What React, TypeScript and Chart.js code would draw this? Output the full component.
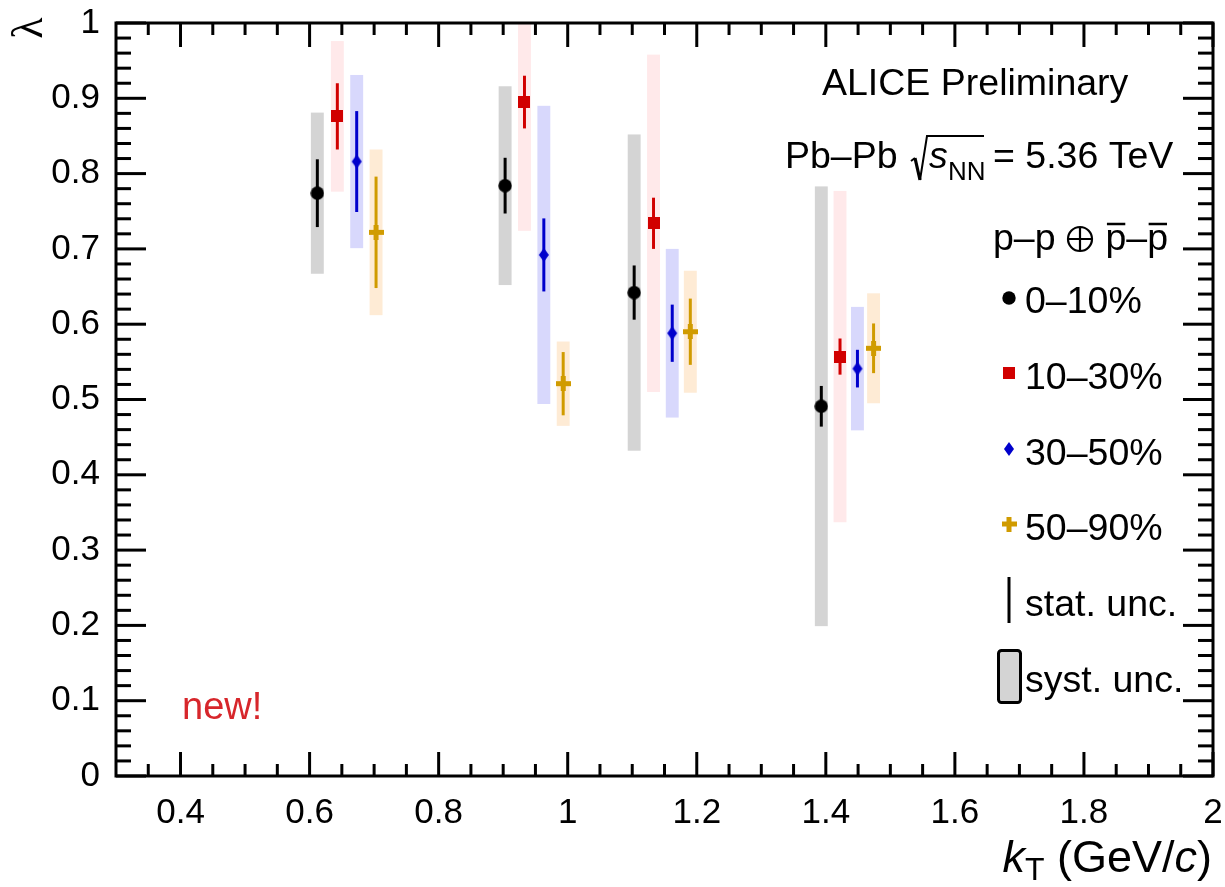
import React, { useEffect, useRef } from 'react';
import { Chart, registerables } from 'chart.js';

Chart.register(...registerables);

// ---------------- data ----------------
const centralityClasses = ['0–10%', '10–30%', '30–50%', '50–90%'];

const kT_0_10 = [0.612, 0.903, 1.103, 1.393];
const kT_10_30 = [0.643, 0.933, 1.133, 1.422];
const kT_30_50 = [0.673, 0.963, 1.162, 1.449];
const kT_50_90 = [0.703, 0.993, 1.19, 1.474];

const lambda_0_10 = [0.774, 0.784, 0.642, 0.491];
const lambda_10_30 = [0.876, 0.895, 0.734, 0.557];
const lambda_30_50 = [0.816, 0.692, 0.588, 0.541];
const lambda_50_90 = [0.722, 0.521, 0.59, 0.568];

const stat_0_10 = [0.045, 0.037, 0.036, 0.027];
const stat_10_30 = [0.044, 0.035, 0.034, 0.024];
const stat_30_50 = [0.067, 0.0485, 0.038, 0.025];
const stat_50_90 = [0.074, 0.042, 0.044, 0.033];

const syst_0_10 = [0.107, 0.132, 0.21, 0.292];
const syst_10_30 = [0.1, 0.171, 0.224, 0.22];
const syst_30_50 = [0.115, 0.198, 0.112, 0.082];
const syst_50_90 = [0.11, 0.056, 0.081, 0.073];

const systHalfWidthKT = 0.01;

const xTickValues = [0.4, 0.6, 0.8, 1, 1.2, 1.4, 1.6, 1.8, 2];
const xTickLabels = ['0.4', '0.6', '0.8', '1', '1.2', '1.4', '1.6', '1.8', '2'];
const yTickValues = [0, 0.1, 0.2, 0.3, 0.4, 0.5, 0.6, 0.7, 0.8, 0.9, 1];
const yTickLabels = ['0', '0.1', '0.2', '0.3', '0.4', '0.5', '0.6', '0.7', '0.8', '0.9', '1'];

// ---------------- styles ----------------
const SANS = "'Liberation Sans', Arial, Helvetica, sans-serif";
const SERIF = "'Liberation Serif', 'DejaVu Serif', serif";
const colors = ['#000000', '#d10000', '#0000cc', '#d09b00'];
const boxColors = ['#d4d4d4', '#ffe9ea', '#d8d8fc', '#feebd5'];

function makeDiamond(color: string, w = 10, h = 14) {
  const c = document.createElement('canvas');
  c.width = w + 2;
  c.height = h + 2;
  const g = c.getContext('2d')!;
  g.fillStyle = color;
  g.beginPath();
  g.moveTo(c.width / 2, 1);
  g.lineTo(c.width - 1, c.height / 2);
  g.lineTo(c.width / 2, c.height - 1);
  g.lineTo(1, c.height / 2);
  g.closePath();
  g.fill();
  return c;
}
function makeCross(color: string, s = 15, t = 5) {
  const c = document.createElement('canvas');
  c.width = s;
  c.height = s;
  const g = c.getContext('2d')!;
  g.fillStyle = color;
  g.fillRect((s - t) / 2, 0, t, s);
  g.fillRect(0, (s - t) / 2, s, t);
  return c;
}
function makeSquare(color: string, s = 12) {
  const c = document.createElement('canvas');
  c.width = s;
  c.height = s;
  const g = c.getContext('2d')!;
  g.fillStyle = color;
  g.fillRect(0, 0, s, s);
  return c;
}
function makeCircle(color: string, d = 14) {
  const c = document.createElement('canvas');
  c.width = d;
  c.height = d;
  const g = c.getContext('2d')!;
  g.fillStyle = color;
  g.beginPath();
  g.arc(d / 2, d / 2, d / 2 - 0.3, 0, Math.PI * 2);
  g.fill();
  return c;
}

function zeroPadding(s: any) {
  s.paddingTop = 0;
  s.paddingBottom = 0;
  s.paddingLeft = 0;
  s.paddingRight = 0;
}

export default function App() {
  const ref = useRef<HTMLCanvasElement | null>(null);

  useEffect(() => {
    document.body.style.margin = '0';
    const canvas = ref.current;
    if (!canvas) return;

    const kTs = [kT_0_10, kT_10_30, kT_30_50, kT_50_90];
    const lams = [lambda_0_10, lambda_10_30, lambda_30_50, lambda_50_90];
    const stats = [stat_0_10, stat_10_30, stat_30_50, stat_50_90];
    const systs = [syst_0_10, syst_10_30, syst_30_50, syst_50_90];

    const markers = [
      makeCircle(colors[0], 14),
      makeSquare(colors[1], 12),
      makeDiamond(colors[2], 10, 14),
      makeCross(colors[3], 15, 5),
    ];

    const datasets = centralityClasses.map((label, s) => ({
      label,
      data: kTs[s].map((x, i) => ({ x, y: lams[s][i] })),
      pointStyle: markers[s] as any,
      pointRadius: 7,
      pointHoverRadius: 7,
      pointBorderWidth: 0,
      backgroundColor: colors[s],
      borderColor: colors[s],
      showLine: false,
    }));

    const errorPlugin = {
      id: 'errors',
      beforeDatasetsDraw(chart: any) {
        const { ctx, chartArea, scales } = chart;
        const xs = scales.x;
        const ys = scales.y;
        ctx.save();
        ctx.beginPath();
        ctx.rect(chartArea.left, chartArea.top, chartArea.right - chartArea.left, chartArea.bottom - chartArea.top);
        ctx.clip();
        for (let s = 0; s < 4; s++) {
          ctx.fillStyle = boxColors[s];
          kTs[s].forEach((x, i) => {
            const x0 = xs.getPixelForValue(x - systHalfWidthKT);
            const x1 = xs.getPixelForValue(x + systHalfWidthKT);
            const y0 = ys.getPixelForValue(lams[s][i] + systs[s][i]);
            const y1 = ys.getPixelForValue(lams[s][i] - systs[s][i]);
            ctx.fillRect(x0, y0, x1 - x0, y1 - y0);
          });
        }
        ctx.lineWidth = 3;
        for (let s = 0; s < 4; s++) {
          ctx.strokeStyle = colors[s];
          kTs[s].forEach((x, i) => {
            const px = xs.getPixelForValue(x);
            ctx.beginPath();
            ctx.moveTo(px, ys.getPixelForValue(lams[s][i] + stats[s][i]));
            ctx.lineTo(px, ys.getPixelForValue(lams[s][i] - stats[s][i]));
            ctx.stroke();
          });
        }
        ctx.restore();
      },
    };

    const framePlugin = {
      id: 'frame',
      afterDatasetsDraw(chart: any) {
        const { ctx, chartArea, scales } = chart;
        const { left, right, top, bottom } = chartArea;
        const xs = scales.x;
        const ys = scales.y;
        ctx.save();
        ctx.strokeStyle = '#000';
        ctx.lineWidth = 3;
        ctx.lineCap = 'butt';
        const line = (x0: number, y0: number, x1: number, y1: number) => {
          ctx.beginPath();
          ctx.moveTo(x0, y0);
          ctx.lineTo(x1, y1);
          ctx.stroke();
        };
        for (let k = 7; k <= 40; k++) {
          const v = k * 0.05;
          const major = k % 4 === 0;
          const len = major ? 24 : 12;
          const px = xs.getPixelForValue(v);
          line(px, bottom, px, bottom - len);
          line(px, top, px, top + len);
        }
        for (let k = 0; k <= 50; k++) {
          const v = k * 0.02;
          const major = k % 5 === 0;
          const len = major ? 30 : 15;
          const py = ys.getPixelForValue(v);
          line(left, py, left + len, py);
          line(right, py, right - len, py);
        }
        ctx.strokeRect(left, top, right - left, bottom - top);
        ctx.restore();
      },
    };

    const textPlugin = {
      id: 'texts',
      afterDraw(chart: any) {
        const { ctx } = chart;
        ctx.save();
        ctx.fillStyle = '#000';
        ctx.textAlign = 'left';
        ctx.textBaseline = 'alphabetic';

        ctx.save();
        ctx.translate(30, 28);
        ctx.rotate(-Math.PI / 2);
        ctx.font = `44px ${SERIF}`;
        ctx.textAlign = 'center';
        ctx.textBaseline = 'middle';
        ctx.fillText('λ', 0, 0);
        ctx.restore();

        {
          const big = `45px ${SANS}`;
          const bigIt = `italic 45px ${SANS}`;
          const sub = `32px ${SANS}`;
          const base = 872;
          const parts: [string, string, number][] = [
            ['k', bigIt, 0],
            ['T', sub, 8],
            [' (GeV/', big, 0],
            ['c', bigIt, 0],
            [')', big, 0],
          ];
          let total = 0;
          parts.forEach(([t, f]) => {
            ctx.font = f;
            total += ctx.measureText(t).width;
          });
          let x = 1212 - total;
          parts.forEach(([t, f, dy]) => {
            ctx.font = f;
            ctx.fillText(t, x, base + dy);
            x += ctx.measureText(t).width;
          });
        }

        const f = `37.5px ${SANS}`;
        ctx.font = f;
        ctx.fillText('ALICE Preliminary', 822, 95);

        ctx.fillText('Pb–Pb', 785, 168);
        ctx.lineJoin = 'miter';
        ctx.strokeStyle = '#000';
        ctx.lineWidth = 2;
        ctx.beginPath();
        ctx.moveTo(911, 161);
        ctx.lineTo(915, 158);
        ctx.stroke();
        ctx.lineWidth = 3.2;
        ctx.beginPath();
        ctx.moveTo(915, 158);
        ctx.lineTo(920, 180);
        ctx.stroke();
        ctx.lineWidth = 2;
        ctx.beginPath();
        ctx.moveTo(920, 180);
        ctx.lineTo(927, 136);
        ctx.lineTo(984, 136);
        ctx.stroke();
        ctx.font = `italic 37.5px ${SANS}`;
        ctx.fillText('s', 929, 168);
        ctx.font = `26px ${SANS}`;
        ctx.fillText('NN', 948, 180);
        ctx.font = f;
        ctx.fillText('= 5.36 TeV', 993, 168);

        ctx.fillText('p–p', 993, 250);
        ctx.lineWidth = 2.2;
        ctx.beginPath();
        ctx.arc(1080, 239, 12, 0, Math.PI * 2);
        ctx.moveTo(1068, 239);
        ctx.lineTo(1092, 239);
        ctx.moveTo(1080, 227);
        ctx.lineTo(1080, 251);
        ctx.stroke();
        const pw = ctx.measureText('p').width;
        const dw = ctx.measureText('–').width;
        const x2 = 1168 - (2 * pw + dw);
        ctx.fillText('p–p', x2, 250);
        ctx.lineWidth = 2.5;
        ctx.beginPath();
        ctx.moveTo(x2 + 1.5, 224);
        ctx.lineTo(x2 + pw - 1, 224);
        ctx.moveTo(x2 + pw + dw + 1.5, 224);
        ctx.lineTo(x2 + 2 * pw + dw - 1, 224);
        ctx.stroke();

        const markerY = [298, 373, 449, 524];
        const textBase = [313, 389, 465, 540];
        for (let s = 0; s < 4; s++) {
          const m = markers[s];
          ctx.drawImage(m, 1009 - m.width / 2, markerY[s] - m.height / 2);
          ctx.fillText(centralityClasses[s], 1025, textBase[s]);
        }
        ctx.lineWidth = 3;
        ctx.beginPath();
        ctx.moveTo(1009, 577);
        ctx.lineTo(1009, 623);
        ctx.stroke();
        ctx.fillText('stat. unc.', 1025, 616);
        ctx.fillStyle = '#d4d4d4';
        ctx.beginPath();
        (ctx as any).roundRect(998.5, 650.5, 22, 52, 3);
        ctx.fill();
        ctx.lineWidth = 3;
        ctx.strokeStyle = '#000';
        ctx.stroke();
        ctx.fillStyle = '#000';
        ctx.fillText('syst. unc.', 1025, 692);

        ctx.fillStyle = '#d7262b';
        ctx.font = `38px ${SANS}`;
        ctx.fillText('new!', 182, 719);
        ctx.restore();
      },
    };

    const tickFont = { family: SANS, size: 35, lineHeight: 1.2 };

    const chart = new Chart(canvas, {
      type: 'scatter',
      data: { datasets: datasets as any },
      options: {
        animation: false,
        responsive: false,
        devicePixelRatio: 1,
        events: [],
        layout: { padding: { left: 0, top: 23, right: 12, bottom: 0 } },
        plugins: { legend: { display: false }, tooltip: { enabled: false } },
        scales: {
          x: {
            type: 'linear',
            min: 0.3,
            max: 2.0,
            afterBuildTicks: (s: any) => {
              s.ticks = xTickValues.map((v) => ({ value: v }));
            },
            afterFit: (s: any) => {
              s.height = 111;
              zeroPadding(s);
            },
            grid: { display: false, drawTicks: false },
            border: { display: false },
            ticks: {
              autoSkip: false,
              maxRotation: 0,
              minRotation: 0,
              padding: 16,
              color: '#000',
              font: tickFont,
              callback: (_v: any, i: number) => xTickLabels[i],
            },
          },
          y: {
            type: 'linear',
            min: 0,
            max: 1,
            afterBuildTicks: (s: any) => {
              s.ticks = yTickValues.map((v) => ({ value: v }));
            },
            afterFit: (s: any) => {
              s.width = 116;
              zeroPadding(s);
            },
            grid: { display: false, drawTicks: false },
            border: { display: false },
            ticks: {
              autoSkip: false,
              padding: 16,
              color: '#000',
              font: tickFont,
              callback: (_v: any, i: number) => yTickLabels[i],
            },
          },
        },
      },
      plugins: [errorPlugin, framePlugin, textPlugin],
    });

    return () => chart.destroy();
  }, []);

  return (
    <div style={{ width: 1225, height: 887, background: '#fff' }}>
      <canvas ref={ref} width={1225} height={887} style={{ display: 'block' }} />
    </div>
  );
}
